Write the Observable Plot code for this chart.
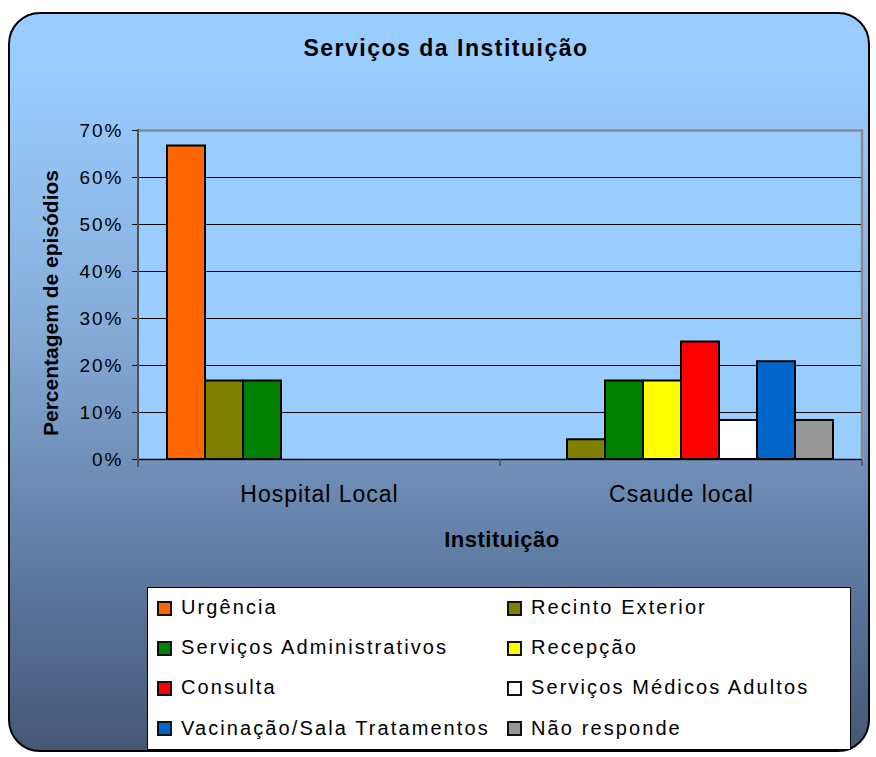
<!DOCTYPE html>
<html><head><meta charset="utf-8">
<script src="https://cdn.jsdelivr.net/npm/d3@7"></script>
<script src="https://cdn.jsdelivr.net/npm/@observablehq/plot@0.6"></script>
<style>
html,body{margin:0;padding:0;background:#fff;}
#page{position:relative;width:876px;height:757px;overflow:hidden;font-family:"Liberation Sans",Arial,sans-serif;color:#000;}
#bg{position:absolute;left:8px;top:12px;width:862px;height:740px;box-sizing:border-box;border:2px solid #000;border-radius:32px;
 background:linear-gradient(to bottom,#99ccff 0%,#99ccff 8%,#88afdc 40%,#6f8eb6 62%,#58739a 80%,#455876 100%);}
#title{position:absolute;left:46px;width:800px;top:37px;text-align:center;font-weight:bold;font-size:23px;line-height:23px;letter-spacing:1.5px;white-space:nowrap;}
#plot{position:absolute;left:0;top:0;}
#xtitle{position:absolute;left:302px;width:400px;top:529px;text-align:center;font-weight:bold;font-size:22px;line-height:22px;letter-spacing:0.5px;white-space:nowrap;}
#ytitle{position:absolute;left:-99px;width:300px;top:292px;height:22px;text-align:center;font-weight:bold;font-size:21px;line-height:22px;white-space:nowrap;transform:rotate(-90deg);}
#legendbox{position:absolute;left:147px;top:587px;width:704px;height:163px;box-sizing:border-box;border:1.5px solid #000;background:#fff;}
.sw{position:absolute;width:15px;height:15px;box-sizing:border-box;border:2px solid #111;}
.lt{position:absolute;font-size:20px;line-height:20px;letter-spacing:2.1px;white-space:nowrap;}
</style></head>
<body>
<div id="page">
  <div id="bg"></div>
  <div id="title">Serviços da Instituição</div>
  <div id="plot"></div>
  <div id="xtitle">Instituição</div>
  <div id="ytitle">Percentagem de episódios</div>
  <div id="legendbox"></div>
</div>
<script>
const institutions = ["Hospital Local", "Csaude local"];
const series = ["Urgência", "Recinto Exterior", "Serviços Administrativos", "Recepção", "Consulta", "Serviços Médicos Adultos", "Vacinação/Sala Tratamentos", "Não responde"];
const colors = ["#ff6600", "#808000", "#008000", "#ffff00", "#ff0000", "#ffffff", "#0066cc", "#969696"];
const hospitalLocal = [66.7, 16.7, 16.7, 0, 0, 0, 0, 0];
const csaudeLocal = [0, 4.2, 16.7, 16.7, 25.0, 8.3, 20.8, 8.3];
const yTicks = [0, 10, 20, 30, 40, 50, 60, 70];

const data = [];
institutions.forEach((inst, gi) => {
  const vals = gi === 0 ? hospitalLocal : csaudeLocal;
  series.forEach((s, si) => data.push({inst, serie: s, value: vals[si]}));
});

const W = 876, H = 560, plotBottom = 459;
const chart = Plot.plot({
  width: W, height: H,
  marginLeft: 138, marginRight: 14, marginTop: 130, marginBottom: H - plotBottom,
  style: {background: "transparent", fontFamily: "'Liberation Sans', Arial, sans-serif", color: "#000", overflow: "visible"},
  fx: {domain: institutions, padding: 0, label: null},
  x: {domain: series, paddingInner: 0, paddingOuter: 0.763, axis: null},
  y: {domain: [0, 70], axis: null, label: null},
  color: {domain: series, range: colors},
  marks: [
    Plot.frame({fill: "#99ccff", stroke: "#99ccff", strokeWidth: 1.5}),
    Plot.ruleY(yTicks.slice(1, -1), {stroke: "#000", strokeWidth: 1.2}),
    Plot.barY(data.filter(d => d.value > 0), {fx: "inst", x: "serie", y: "value", fill: "serie", stroke: "#000", strokeWidth: 2}),
    Plot.ruleY([0], {stroke: "#000", strokeWidth: 1.5}),
    Plot.ruleY([70], {stroke: "#8a8a8a", strokeWidth: 2.5}),
    Plot.axisY({ticks: yTicks, tickFormat: d => d + "%", tickSize: 6, tickPadding: 9, fontSize: 19, stroke: "#000", label: null}),
    Plot.axisFx({anchor: "bottom", tickSize: 0, tickPadding: 26, fontSize: 23, label: null})
  ]
});
document.getElementById("plot").appendChild(chart);

const svg = d3.select(chart);
svg.selectAll('g[aria-label="y-axis tick label"] text').style("letter-spacing", "2px");
svg.selectAll('g[aria-label="fx-axis tick label"] text').style("letter-spacing", "1px");

const fx = chart.scale("fx");
const ys = chart.scale("y");
const yTop = ys.apply(70), yBot = ys.apply(0);
const n = institutions.length;
const xs = d3.range(n + 1).map(i => fx.range[0] + i * (fx.range[1] - fx.range[0]) / n);
// axis line (left), right edge, category separators
svg.append("line").attr("x1", xs[0]).attr("x2", xs[0]).attr("y1", yTop - 1).attr("y2", yBot + 8)
  .attr("stroke", "#505050").attr("stroke-width", 2);
svg.append("line").attr("x1", xs[n]).attr("x2", xs[n]).attr("y1", yTop - 1).attr("y2", yBot)
  .attr("stroke", "#8a8a8a").attr("stroke-width", 2.5);
xs.slice(1).forEach(x => svg.append("line").attr("x1", x).attr("x2", x).attr("y1", yBot).attr("y2", yBot + 7)
  .attr("stroke", "#505050").attr("stroke-width", 1.5));

// legend
const page = document.getElementById("page");
series.forEach((s, i) => {
  const col = i % 2, row = Math.floor(i / 2);
  const sw = document.createElement("div");
  sw.className = "sw";
  sw.style.left = (col ? 507 : 157) + "px";
  sw.style.top = (600.5 + row * 40.3) + "px";
  sw.style.background = colors[i];
  page.appendChild(sw);
  const t = document.createElement("div");
  t.className = "lt";
  t.style.left = (col ? 531 : 181) + "px";
  t.style.top = (596.6 + row * 40.3) + "px";
  t.textContent = s;
  page.appendChild(t);
});
</script>
</body></html>
